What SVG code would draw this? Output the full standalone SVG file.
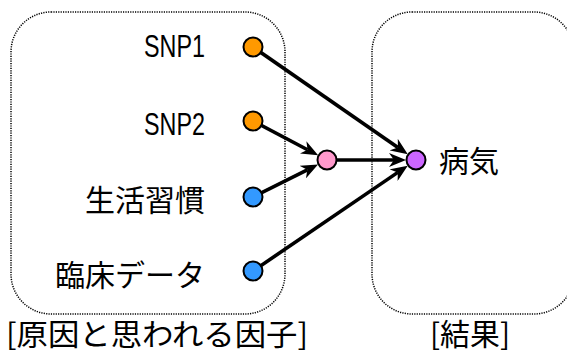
<svg xmlns="http://www.w3.org/2000/svg" width="567" height="353" viewBox="0 0 567 353">
<style>
.box{fill:none;stroke:#000;stroke-width:1.5;stroke-dasharray:1.2 1.2}
.lat{font-family:"Liberation Sans",Arial,sans-serif;font-size:32px;fill:#000}
.jp{font-family:"Noto Sans CJK JP","Noto Sans CJK SC",sans-serif;font-size:30px;fill:#000}
.node{stroke:#000;stroke-width:2}
.edge{stroke:#000;stroke-width:3.6;fill:none;marker-end:url(#ah)}
</style>
<defs>
<marker id="ah" viewBox="0 0 17 14" refX="5" refY="7" markerWidth="17" markerHeight="14" markerUnits="userSpaceOnUse" orient="auto">
<path d="M0,0 L17,7 L0,14 L5,7 Z" fill="#000"/>
</marker>
</defs>
<rect width="567" height="353" fill="#fff"/>
<g id="group-causes">
<rect class="box" x="11" y="12" width="274" height="302" rx="40" ry="40"/>
<text class="jp" x="6" y="345" font-size="31" textLength="302" lengthAdjust="spacingAndGlyphs">[原因と思われる因子]</text>
</g>
<g id="group-result">
<rect class="box" x="372" y="12" width="202" height="302" rx="40" ry="40"/>
<text class="jp" x="430" y="345" textLength="80" lengthAdjust="spacingAndGlyphs">[結果]</text>
</g>
<g id="connectors">
<line class="edge" x1="253" y1="47" x2="397.92" y2="147.47"/>
<line class="edge" x1="253" y1="121" x2="307.54" y2="149.74"/>
<line class="edge" x1="253" y1="197" x2="307.32" y2="169.84"/>
<line class="edge" x1="327" y1="160" x2="394" y2="160"/>
<line class="edge" x1="253" y1="271" x2="397.82" y2="172.38"/>
</g>
<g id="snp1">
<text class="lat" x="205" y="57" text-anchor="end" textLength="61" lengthAdjust="spacingAndGlyphs">SNP1</text>
<circle class="node" cx="253" cy="47" r="9.5" fill="#FF9900"/>
</g>
<g id="snp2">
<text class="lat" x="205" y="135" text-anchor="end" textLength="61" lengthAdjust="spacingAndGlyphs">SNP2</text>
<circle class="node" cx="253" cy="121" r="9.5" fill="#FF9900"/>
</g>
<g id="lifestyle">
<text class="jp" x="205" y="211" text-anchor="end">生活習慣</text>
<circle class="node" cx="253" cy="197" r="9.5" fill="#3399FF"/>
</g>
<g id="clinical">
<text class="jp" x="205" y="286" text-anchor="end">臨床データ</text>
<circle class="node" cx="253" cy="271" r="9.5" fill="#3399FF"/>
</g>
<g id="hidden">
<circle class="node" cx="327" cy="160" r="9.5" fill="#FF99CC"/>
</g>
<g id="disease">
<circle class="node" cx="416" cy="160" r="9.5" fill="#CC66FF"/>
<text class="jp" x="439" y="172">病気</text>
</g>
</svg>
